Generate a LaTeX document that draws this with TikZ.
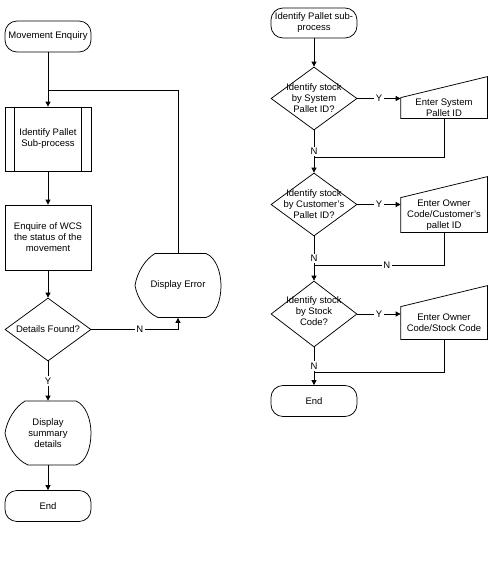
\documentclass[tikz,border=0pt]{standalone}
\usepackage{fontspec}
\setmainfont{Liberation Sans}
\usetikzlibrary{shapes.geometric,arrows.meta}

% outline of a display shape round an invisible node
\newcommand{\displayoutline}[1]{%
	\draw[shift={(#1.center)}] (-23,-32) -- (28,-32) .. controls (38,-28) and (43,-13) .. (43,0)
		.. controls (43,15) and (38,29) .. (28,32) -- (-20,32) .. controls (-32,27) and (-41,12) .. (-43,0)
		.. controls (-41,-13) and (-33,-26) .. (-23,-32) -- cycle;}
% outline of a manual input shape round an invisible node
\newcommand{\inputoutline}[1]{%
	\draw (#1.south west) -- (#1.south east) -- ([yshift=21pt]#1.north east) -- (#1.north west) -- cycle;}

\begin{document}
\begin{tikzpicture}[x=1pt, y=-1pt, line width=0.75pt, font=\fontsize{9.5}{11}\selectfont,
	terminal/.style={rectangle, rounded corners=12pt, draw, minimum width=86pt, minimum height=31pt, inner sep=0pt, align=center},
	process/.style={rectangle, draw, minimum width=86pt, minimum height=65pt, inner sep=0pt, align=center},
	decision/.style={diamond, draw, minimum width=86pt, minimum height=63pt, inner sep=0pt},
	dtext/.style={align=center, inner sep=0pt},
	inputbox/.style={rectangle, minimum width=86pt, inner sep=0pt, align=center},
	dispbox/.style={rectangle, minimum width=86pt, minimum height=64pt, inner sep=0pt, align=center},
	arr/.style={-{Triangle[length=5pt,width=5pt]}},
	lbl/.style={fill=white, inner sep=1.5pt}]

	\useasboundingbox (0,0) rectangle (501,568);

	% Nodes, movement enquiry
	\node[terminal] (start) at (48,36.5) {Movement Enquiry};
	\node[process, minimum height=64pt] (sub) at (48,139) {Identify Pallet\\Sub-process};
	\draw ([xshift=10pt]sub.north west) -- ([xshift=10pt]sub.south west);
	\draw ([xshift=-10pt]sub.north east) -- ([xshift=-10pt]sub.south east);
	\node[process] (enq) at (48,237.5) {Enquire of WCS\\the status of the\\movement};
	\node[decision] (found) at (48,329.5) {};
	\node[dtext] (foundtxt) at (found) {Details Found?};
	\node[dispbox] (summ) at (48,433) {Display\\summary\\details};
	\displayoutline{summ}
	\node[terminal] (endl) at (48,506) {End};
	\node[dispbox] (disperr) at (178,285.5) {Display Error};
	\displayoutline{disperr}
	\coordinate (loop) at (48,90);

	% Nodes, identify pallet sub-process
	\node[terminal, minimum height=30pt] (rstart) at (314,23) {Identify Pallet sub-\\process};
	\node[decision] (bysys) at (314,98.5) {};
	\node[dtext] (bysystxt) at (bysys) {Identify stock\\by System\\Pallet ID?};
	\node[inputbox, minimum height=20pt] (syspal) at (444,108) {Enter System\\Pallet ID};
	\inputoutline{syspal}
	\node[decision] (bycus) at (314,204.5) {};
	\node[dtext] (bycustxt) at (bycus) {Identify stock\\by Customer's\\Pallet ID?};
	\node[inputbox, minimum height=34pt] (cuspal) at (444,215) {Enter Owner\\Code/Customer's\\pallet ID};
	\inputoutline{cuspal}
	\node[decision, minimum height=66pt] (bystk) at (314,314) {};
	\node[dtext] (bystktxt) at ([yshift=3pt]bystk.center) {Identify stock\\by Stock\\Code?};
	\node[inputbox, minimum height=32pt] (stkcode) at (444,323) {Enter Owner\\Code/Stock Code};
	\inputoutline{stkcode}
	\node[terminal] (rend) at (314,401) {End};
	\coordinate (j1) at (314,157);
	\coordinate (j2) at (314,265);
	\coordinate (j3) at (314,372);

	% Directed edges, movement enquiry
	\draw[arr] (start) -- (sub);
	\draw[arr] (sub) -- (enq);
	\draw[arr] (enq) -- (found);
	\draw[arr] (found) -- node[lbl] {Y} (summ);
	\draw[arr] (summ) -- (endl);
	\draw[arr] (found.east) -| node[lbl, pos=0.28] {N} (disperr.south);
	\draw (disperr.north) |- (loop);

	% Directed edges, identify pallet sub-process
	\draw[arr] (rstart) -- (bysys);
	\draw[arr] (bysys.east) -- node[lbl] {Y} (bysys.east -| syspal.west);
	\draw (syspal.south) |- (j1);
	\draw[arr] (bysys) -- node[lbl] {N} (bycus);
	\draw[arr] (bycus.east) -- node[lbl] {Y} (bycus.east -| cuspal.west);
	\draw (cuspal.south) |- node[lbl, pos=0.72] {N} (j2);
	\draw[arr] (bycus) -- node[lbl] {N} (bystk);
	\draw[arr] (bystk.east) -- node[lbl] {Y} (bystk.east -| stkcode.west);
	\draw (stkcode.south) |- (j3);
	\draw[arr] (bystk) -- node[lbl] {N} (rend);
\end{tikzpicture}
\end{document}
